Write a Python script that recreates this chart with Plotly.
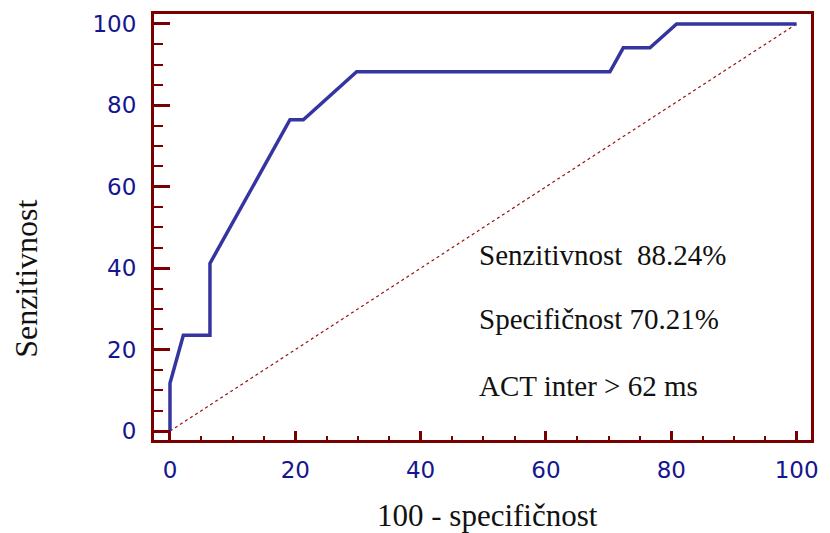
import plotly.graph_objects as go

# ROC curve points (100 - specificity, sensitivity)
fpr = [0, 0, 2.13, 6.38, 6.38, 17.02, 19.15, 21.28, 25.53, 29.79, 70.21, 72.34, 76.60, 80.85, 100]
tpr = [0, 11.76, 23.53, 23.53, 41.18, 70.59, 76.47, 76.47, 82.35, 88.24, 88.24, 94.12, 94.12, 100, 100]
diag_x = [0, 100]
diag_y = [0, 100]
tick_vals = [0, 20, 40, 60, 80, 100]
tick_text = ["0", "20", "40", "60", "80", "100"]
notes = ["Senzitivnost  88.24%", "Specifičnost 70.21%", "ACT inter > 62 ms"]
notes_y = [43.2, 27.6, 11.0]
notes_x = 49.0

MAROON = "#7a0000"
NAVY = "#151590"

fig = go.Figure()
fig.add_trace(go.Scatter(x=diag_x, y=diag_y, mode="lines",
                         line=dict(color="#9a1010", width=1.2, dash="dot"),
                         hoverinfo="skip", showlegend=False))
fig.add_trace(go.Scatter(x=fpr, y=tpr, mode="lines",
                         line=dict(color="#3535a0", width=3.5),
                         showlegend=False))

for t, yy in zip(notes, notes_y):
    fig.add_annotation(x=notes_x, y=yy, xref="x", yref="y", text=t, showarrow=False,
                       xanchor="left", yanchor="middle",
                       font=dict(family="Liberation Serif", size=29, color="#111111"))

fig.add_annotation(x=0.507, y=-0.177, xref="paper", yref="paper", text="100 - specifičnost",
                   showarrow=False, xanchor="center", yanchor="middle",
                   font=dict(family="Liberation Serif", size=31, color="#111111"))
fig.add_annotation(x=-0.195, y=0.378, xref="paper", yref="paper", text="Senzitivnost",
                   showarrow=False, textangle=-90, xanchor="center", yanchor="middle",
                   font=dict(family="Liberation Serif", size=32, color="#111111"))

axis_common = dict(showgrid=False, zeroline=False, showline=True, linecolor=MAROON,
                   linewidth=3, mirror=True, ticks="inside", tickcolor=MAROON,
                   tickvals=tick_vals, ticktext=tick_text,
                   tickfont=dict(family="DejaVu Sans", size=23, color=NAVY))

fig.update_xaxes(**axis_common, range=[-2.55, 102.3], ticklen=9, tickwidth=3,
                 minor=dict(ticks="inside", dtick=5, tick0=0, ticklen=4, tickwidth=1.5,
                            tickcolor=MAROON, showgrid=False),
                 ticklabelstandoff=7)
fig.update_yaxes(**axis_common, range=[-2.2, 102.44], ticklen=16, tickwidth=3,
                 minor=dict(ticks="inside", dtick=5, tick0=0, ticklen=9, tickwidth=1.5,
                            tickcolor=MAROON, showgrid=False),
                 ticklabelstandoff=10)

# page body has an 8px margin, so the figure is 8px smaller than the window
fig.update_layout(width=822, height=525, margin=dict(l=146, r=19, t=3, b=93),
                  plot_bgcolor="white", paper_bgcolor="white")

fig.write_html("out.html")
